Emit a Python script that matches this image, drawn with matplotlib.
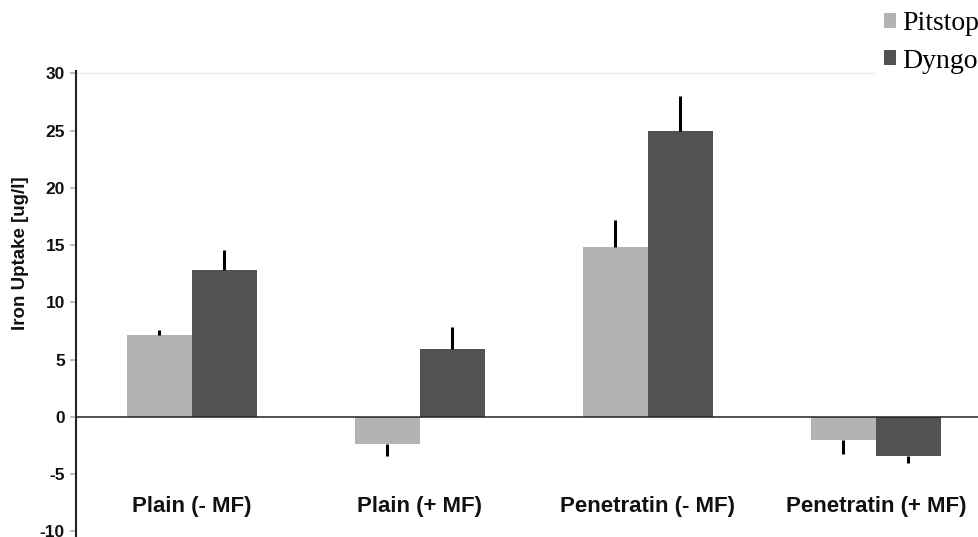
import numpy as np
import matplotlib
matplotlib.use('Agg')
import matplotlib.pyplot as plt

# data
categories = ['Plain (- MF)', 'Plain (+ MF)', 'Penetratin (- MF)', 'Penetratin (+ MF)']
pitstop = [7.1, -2.4, 14.8, -2.0]
pitstop_err = [0.5, 1.05, 2.35, 1.25]
dyngo = [12.8, 5.9, 25.0, -3.45]
dyngo_err = [1.8, 1.9, 3.05, 0.6]
yticks = [-10, -5, 0, 5, 10, 15, 20, 25, 30]

plt.rcParams['font.family'] = 'Liberation Sans'

c_pit = '#b3b3b3'
c_dyn = '#525252'
width = 0.285
x = np.arange(len(categories))


def one_sided(vals, errs):
    # error bar only away from zero
    lo = [e if v < 0 else 0 for v, e in zip(vals, errs)]
    hi = [e if v >= 0 else 0 for v, e in zip(vals, errs)]
    return [lo, hi]


fig = plt.figure(figsize=(9.79, 5.37), dpi=100)
ax = fig.add_axes([76 / 979, 0.0, 1 - 76 / 979, 0.8678])

ax.bar(x - width / 2, pitstop, width, color=c_pit, label='Pitstop', zorder=2,
       yerr=one_sided(pitstop, pitstop_err), error_kw=dict(ecolor='black', elinewidth=2.2, capsize=0))
ax.bar(x + width / 2, dyngo, width, color=c_dyn, label='Dyngo', zorder=2,
       yerr=one_sided(dyngo, dyngo_err), error_kw=dict(ecolor='black', elinewidth=2.2, capsize=0))

ax.axhline(0, color='#222222', lw=1.1, zorder=3)
ax.axhline(30, color='#e8e8e8', lw=0.8, xmax=0.883, zorder=1)

ax.set_xlim(-0.507, 3.452)
ax.set_ylim(-10.5, 30.2)
ax.set_yticks(yticks)
ax.set_yticklabels([str(t) for t in yticks], fontsize=12.5, fontweight='bold', color='#111111')
ax.set_xticks([])
ax.tick_params(axis='y', length=4.5, width=1.5, color='#c0c0c0', pad=3.5)

for s in ['top', 'right', 'bottom']:
    ax.spines[s].set_visible(False)
ax.spines['left'].set_color('#222222')
ax.spines['left'].set_linewidth(1.5)

ax.set_ylabel('Iron Uptake [ug/l]', fontsize=13.5, fontweight='bold', color='#111111')
ax.yaxis.set_label_coords(-0.052, 0.61)

for xi, name in zip(x, categories):
    ax.text(xi, -7.8, name, ha='center', va='center', fontsize=16, fontweight='bold', color='#111111')

fig.legend(loc='upper left', bbox_to_anchor=(884 / 979, 1 - 11 / 537),
           frameon=False, prop={'family': 'Liberation Serif', 'size': 20},
           handlelength=0.45, handleheight=0.45, handletextpad=0.2,
           labelspacing=0.45, borderpad=0, borderaxespad=0)

fig.savefig('out.png', dpi=100)
